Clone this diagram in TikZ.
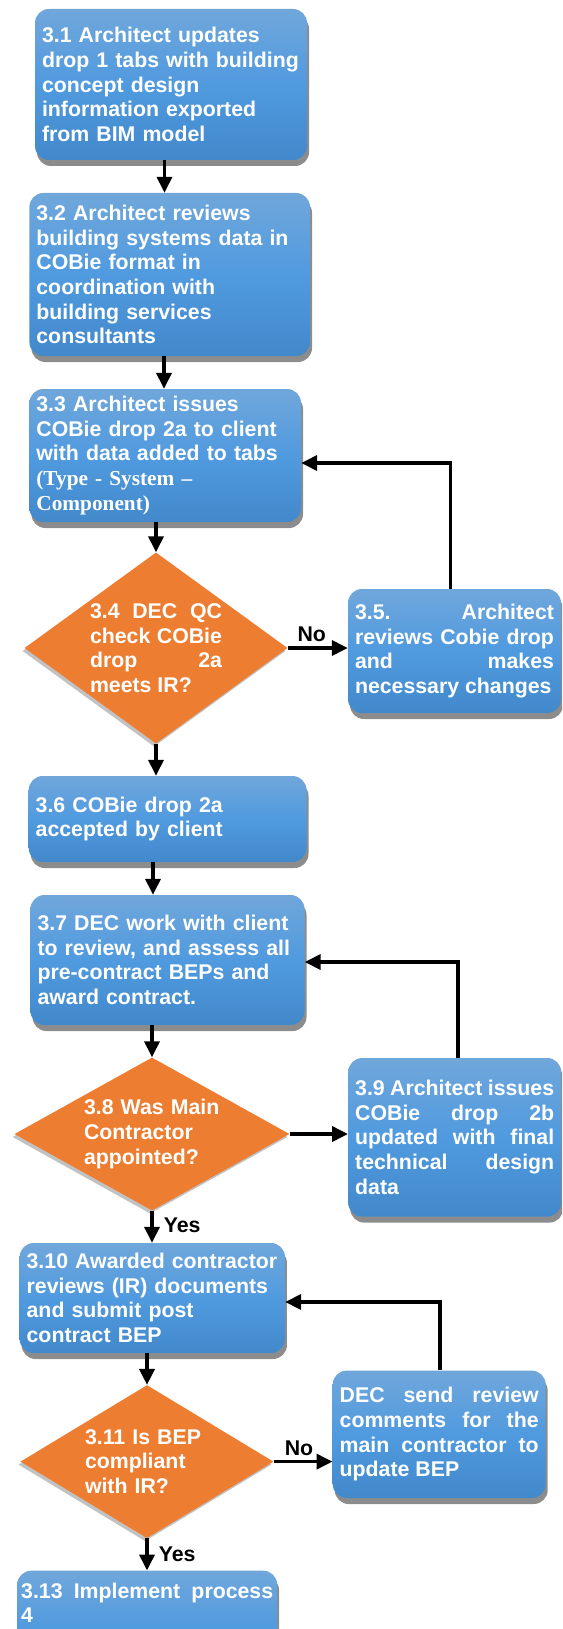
\documentclass[tikz,border=0pt]{standalone}
\usepackage{fontspec}
\setmainfont{Liberation Sans}
\newfontfamily\serifbold{Liberation Serif}
\usepackage{tikz}
\usetikzlibrary{arrows.meta}
\usetikzlibrary{shapes.geometric}
\usetikzlibrary{shadows}
\definecolor{boxtop}{RGB}{112,167,219}
\definecolor{boxmid}{RGB}{80,154,223}
\definecolor{boxbot}{RGB}{66,137,203}
\definecolor{decorange}{RGB}{237,125,49}
\newcommand{\flowfont}{\fontsize{21.3}{24.6}\selectfont\bfseries}
\tikzset{%
  procbox/.style={rectangle, rounded corners=14pt, top color=boxtop, bottom color=boxbot, middle color=boxmid,
    text=white, font=\flowfont, align=left, inner xsep=7pt, inner ysep=4pt,
    drop shadow={shadow xshift=2pt, shadow yshift=-6pt, opacity=0.6, fill=black!75}},%
  justbox/.style={procbox, align=justify},%
  decision/.style={diamond, fill=decorange, text=white, font=\flowfont, inner sep=0pt,
    drop shadow={shadow xshift=-2pt, shadow yshift=-3pt, opacity=0.4, fill=black!60}},%
  arr/.style={line width=3.6pt, -{Triangle[length=16pt,width=15pt]}},%
  lbl/.style={font=\flowfont, text=black, inner sep=1pt},%
}
\begin{document}
\begin{tikzpicture}[x=1pt,y=-1pt]%
        \useasboundingbox (0,0) rectangle (562,1629);%
        \clip (0,0) rectangle (562,1629);%
        % left column
        \node[procbox, text width=258pt, minimum height=151pt] (n31) at (171,84.5) {3.1 Architect updates\\drop 1 tabs with building\\concept design\\information exported\\from BIM model};%
        \node[procbox, text width=266.6pt, minimum height=163pt] (n32) at (169.7,274.5) {3.2 Architect reviews\\building systems data in\\COBie format in\\coordination with\\building services\\consultants};%
        \node[procbox, text width=257.6pt, minimum height=133pt] (n33) at (165.2,455.5) {3.3 Architect issues\\COBie drop 2a to client\\with data added to tabs\\{\serifbold (Type - System –}\\{\serifbold Component)}};%
        \node[decision, aspect=1.377, minimum width=263pt, minimum height=191pt, text width=132pt, align=justify] (n34) at (156,648) {3.4 DEC QC\linebreak check COBie\linebreak drop 2a\linebreak meets IR?};%
        \node[procbox, text width=263.8pt, minimum height=86pt] (n36) at (167.6,819) {3.6 COBie drop 2a\\accepted by client};%
        \node[procbox, text width=260pt, minimum height=130pt] (n37) at (167.5,960) {3.7 DEC work with client\\to review, and assess all\\pre-contract BEPs and\\award contract.};%
        \node[decision, aspect=1.8, minimum width=275pt, minimum height=153pt, text width=136pt, align=left] (n38) at (152,1134) {3.8 Was Main\\Contractor\\appointed?};%
        \node[procbox, text width=251.3pt, minimum height=110pt] (n310) at (152.3,1298) {3.10 Awarded contractor\\reviews (IR) documents\\and submit post\\contract BEP};%
        \node[decision, aspect=1.65, minimum width=253pt, minimum height=153pt, text width=124pt, align=left] (n311) at (147,1461.6) {3.11 Is BEP\\compliant\\with IR?};%
        \node[justbox, text width=252pt, inner xsep=4pt, inner ysep=12pt, text depth=80pt, anchor=north west] (n313) at (17,1570.5) {3.13 Implement process\linebreak 4};%
        % right column
        \node[justbox, text width=199pt, minimum height=124pt] (n35) at (454.5,651) {3.5. Architect\linebreak reviews Cobie drop\linebreak and makes\linebreak necessary changes};%
        \node[justbox, text width=199pt, minimum height=158.6pt] (n39) at (454.7,1137.3) {3.9 Architect issues\linebreak COBie drop 2b\linebreak updated with final\linebreak technical design\linebreak data};%
        \node[justbox, text width=199pt, minimum height=127.4pt] (ndec) at (439.2,1434.3) {DEC send review\linebreak comments for the\linebreak main contractor to\linebreak update BEP};%
        % connectors
        \draw[arr] (n31.south -| 164.5,0) -- (n32.north -| 164.5,0);%
        \draw[arr] (n32.south -| 164,0) -- (n33.north -| 164,0);%
        \draw[arr] (n33.south -| n34.north) -- (n34.north);%
        \draw[arr] (n34.east) -- node[lbl, above=3pt, pos=0.4] (no1) {No} (n34.east -| n35.west);%
        \draw[arr] (n35.north -| 450.5,0) |- (n33.east |- 0,463);%
        \draw[arr] (n34.south) -- (n36.north -| n34.south);%
        \draw[arr] (n36.south -| 153,0) -- (n37.north -| 153,0);%
        \draw[arr] (n37.south -| n38.north) -- (n38.north);%
        \draw[arr] (n38.east) -- (n38.east -| n39.west);%
        \draw[arr] (n39.north -| 458,0) |- (n37.east |- 0,962);%
        \draw[arr] (n38.south) -- node[lbl, right=9pt, pos=0.45] (yes1) {Yes} (n310.north -| n38.south);%
        \draw[arr] (n310.south -| n311.north) -- (n311.north);%
        \draw[arr] (n311.east) -- node[lbl, above=3pt, pos=0.43] (no2) {No} (n311.east -| ndec.west);%
        \draw[arr] (ndec.north -| 440,0) |- (n310.east |- 0,1302);%
        \draw[arr] (n311.south) -- node[lbl, right=9pt, pos=0.5] (yes2) {Yes} (n313.north -| n311.south);%
    \end{tikzpicture}
\end{document}
